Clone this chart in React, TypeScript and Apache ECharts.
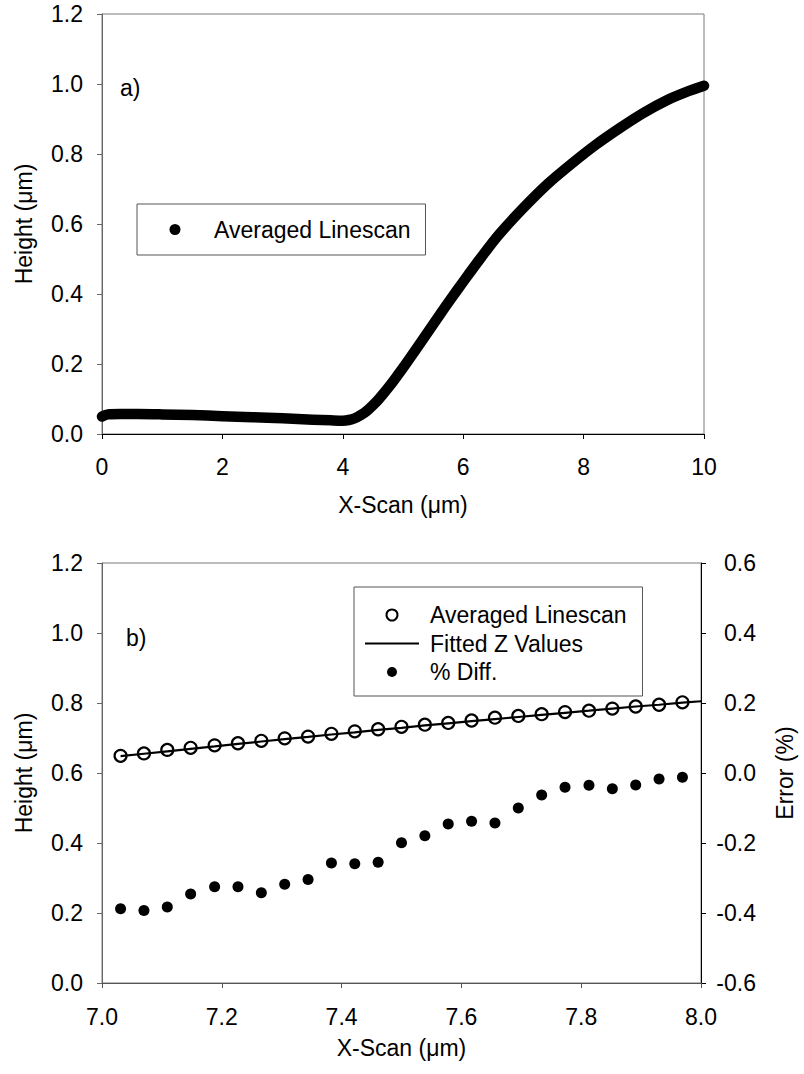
import React, { useEffect, useRef } from "react";
import * as echarts from "echarts";

// Panel a) – full averaged linescan across the 10 µm scan
const scanX = [0, 0.1, 0.3, 0.6, 1.0, 1.5, 2.0, 2.5, 3.0, 3.5, 3.8, 4.0, 4.1, 4.2, 4.3, 4.4, 4.5, 4.6, 4.8, 5.0, 5.2, 5.4, 5.6, 5.8, 6.0, 6.3, 6.6, 7.0, 7.4, 7.8, 8.2, 8.6, 9.0, 9.4, 9.7, 10.0];
const scanHeight = [0.050, 0.056, 0.057, 0.057, 0.056, 0.054, 0.051, 0.048, 0.045, 0.041, 0.039, 0.038, 0.040, 0.045, 0.054, 0.066, 0.082, 0.100, 0.142, 0.189, 0.238, 0.288, 0.338, 0.387, 0.435, 0.505, 0.571, 0.646, 0.714, 0.772, 0.826, 0.874, 0.918, 0.955, 0.977, 0.995];

// Panel b) – zoomed region 7.0–8.0 µm
const zoomX = [7.031, 7.070, 7.109, 7.148, 7.188, 7.227, 7.266, 7.305, 7.344, 7.383, 7.422, 7.461, 7.500, 7.539, 7.578, 7.617, 7.656, 7.695, 7.734, 7.773, 7.813, 7.852, 7.891, 7.930, 7.969];
const zoomHeight = [0.649, 0.656, 0.666, 0.672, 0.679, 0.685, 0.692, 0.699, 0.704, 0.712, 0.719, 0.725, 0.732, 0.738, 0.743, 0.750, 0.758, 0.763, 0.768, 0.774, 0.778, 0.784, 0.790, 0.795, 0.802];
const fittedX = [7.031, 7.070, 7.109, 7.148, 7.188, 7.227, 7.266, 7.305, 7.344, 7.383, 7.422, 7.461, 7.500, 7.539, 7.578, 7.617, 7.656, 7.695, 7.734, 7.773, 7.813, 7.852, 7.891, 7.930, 7.969, 8.0];
const fittedZ = [0.648, 0.655, 0.662, 0.669, 0.676, 0.683, 0.690, 0.697, 0.703, 0.710, 0.716, 0.723, 0.729, 0.736, 0.742, 0.748, 0.754, 0.760, 0.766, 0.772, 0.778, 0.784, 0.790, 0.795, 0.801, 0.805];
const pctDiff = [-0.388, -0.393, -0.383, -0.346, -0.325, -0.325, -0.342, -0.318, -0.304, -0.257, -0.259, -0.255, -0.199, -0.179, -0.146, -0.138, -0.143, -0.100, -0.063, -0.041, -0.035, -0.045, -0.034, -0.017, -0.012];

const FONT = "'Liberation Sans', Arial, sans-serif";
const FS = 23;

const fmt1 = (v: number) => (Math.abs(v) < 1e-9 ? "0.0" : v.toFixed(1));
const fmt0 = (v: number) => String(Math.round(v));

const zip = (xs: number[], ys: number[]) => xs.map((x, i) => [x, ys[i]]);

// legend glyphs: invisible move-to points fix the glyph box so the mark stays centred
const DOT_TOP = "path://M0,0 M68,11 M28.5,5.5 a5.5,5.5 0 1,0 11,0 a5.5,5.5 0 1,0 -11,0 z";
const DOT_BOTTOM = "path://M0,0 M66,11 M28,5.5 a5,5 0 1,0 10,0 a5,5 0 1,0 -10,0 z";
const DASH = "path://M0,0 M66,11 M6,4.4 h54 v2.2 h-54 z";

export default function App() {
  const ref = useRef<HTMLDivElement>(null);

  useEffect(() => {
    if (!ref.current) return;
    const chart = echarts.init(ref.current, undefined, { renderer: "svg" });

    const baseAxisLine = (color: string) => ({ show: true, lineStyle: { color, width: 1 } });
    const tick = (color: string) => ({ show: true, inside: false, length: 5, lineStyle: { color, width: 1 } });
    const label = { color: "#000", fontSize: FS, fontFamily: FONT };
    const nameStyle = { color: "#000", fontSize: FS, fontFamily: FONT };
    const legendText = { fontSize: FS, fontFamily: FONT, color: "#000", lineHeight: 22 };

    chart.setOption({
      animation: false,
      backgroundColor: "#fff",
      textStyle: { fontFamily: FONT, color: "#000" },
      grid: [
        { left: 102, top: 14, width: 602, height: 420, show: true, borderColor: "#7a7a7a", borderWidth: 1 },
        { left: 102, top: 563, width: 602, height: 420, show: true, borderColor: "#7a7a7a", borderWidth: 1 },
      ],
      xAxis: [
        {
          type: "value", gridIndex: 0, min: 0, max: 10, interval: 2,
          axisLine: baseAxisLine("#000"), axisTick: tick("#000"),
          axisLabel: { ...label, margin: 21, formatter: fmt0 },
          splitLine: { show: false },
          name: "X-Scan (μm)", nameLocation: "middle", nameGap: 59, nameTextStyle: nameStyle,
        },
        {
          type: "value", gridIndex: 1, min: 7, max: 8, interval: 0.2,
          axisLine: baseAxisLine("#555"), axisTick: tick("#555"),
          axisLabel: { ...label, margin: 22, formatter: fmt1 },
          splitLine: { show: false },
          name: "X-Scan (μm)", nameLocation: "middle", nameGap: 53, nameTextStyle: nameStyle,
        },
      ],
      yAxis: [
        {
          type: "value", gridIndex: 0, min: 0, max: 1.2, interval: 0.2,
          axisLine: baseAxisLine("#666"), axisTick: tick("#666"),
          axisLabel: { ...label, margin: 19, formatter: fmt1 },
          splitLine: { show: false },
          name: "Height (μm)", nameLocation: "middle", nameGap: 67, nameTextStyle: nameStyle,
        },
        {
          type: "value", gridIndex: 1, min: 0, max: 1.2, interval: 0.2,
          axisLine: baseAxisLine("#666"), axisTick: tick("#666"),
          axisLabel: { ...label, margin: 19, formatter: fmt1 },
          splitLine: { show: false },
          name: "Height (μm)", nameLocation: "middle", nameGap: 67, nameTextStyle: nameStyle,
        },
        {
          type: "value", gridIndex: 1, position: "right", min: -0.6, max: 0.6, interval: 0.2,
          axisLine: baseAxisLine("#000"), axisTick: tick("#000"),
          axisLabel: { ...label, margin: 55, align: "right", formatter: fmt1 },
          splitLine: { show: false },
          name: "Error (%)", nameLocation: "middle", nameGap: 72, nameTextStyle: nameStyle,
        },
      ],
      legend: [
        {
          left: 137, top: 204, orient: "vertical",
          padding: [14, 15, 14, 4],
          itemWidth: 68, itemHeight: 11,
          borderColor: "#555", borderWidth: 1,
          selectedMode: false,
          textStyle: legendText,
          data: [{ name: "Averaged Linescan", icon: DOT_TOP, itemStyle: { color: "#000", borderWidth: 0 } }],
        },
        {
          left: 354, top: 587, orient: "vertical",
          padding: [16.5, 16, 12.5, 5],
          itemWidth: 66, itemHeight: 11, itemGap: 5.5,
          borderColor: "#555", borderWidth: 1,
          selectedMode: false,
          textStyle: legendText,
          data: [
            { name: "Averaged Linescan", icon: "emptyCircle" },
            { name: "Fitted Z Values", icon: DASH, itemStyle: { borderWidth: 0 } },
            { name: "% Diff.", icon: DOT_BOTTOM, itemStyle: { borderWidth: 0 } },
          ],
        },
      ],
      graphic: [
        { type: "text", left: 120, top: 76, style: { text: "a)", fontSize: FS, fontFamily: FONT, fill: "#000" } },
        { type: "text", left: 126, top: 626, style: { text: "b)", fontSize: FS, fontFamily: FONT, fill: "#000" } },
      ],
      series: [
        {
          name: "Averaged Linescan",
          type: "line",
          xAxisIndex: 0, yAxisIndex: 0,
          data: zip(scanX, scanHeight),
          showSymbol: false, symbol: "none",
          smooth: 0.3,
          color: "#000",
          lineStyle: { color: "#000", width: 10.5, cap: "round", join: "round" },
          z: 3,
        },
        {
          name: "Averaged Linescan",
          type: "scatter",
          xAxisIndex: 1, yAxisIndex: 1,
          data: zip(zoomX, zoomHeight),
          symbol: "circle", symbolSize: 12,
          itemStyle: { color: "#fff", borderColor: "#000", borderWidth: 2.2, opacity: 1 },
          z: 2,
        },
        {
          name: "Fitted Z Values",
          type: "line",
          xAxisIndex: 1, yAxisIndex: 1,
          data: zip(fittedX, fittedZ),
          showSymbol: false, symbol: "none",
          color: "#000",
          lineStyle: { color: "#000", width: 2.2 },
          z: 4,
        },
        {
          name: "% Diff.",
          type: "scatter",
          xAxisIndex: 1, yAxisIndex: 2,
          data: zip(zoomX, pctDiff),
          symbol: "circle", symbolSize: 11,
          itemStyle: { color: "#000", opacity: 1 },
          z: 3,
        },
      ],
    });

    return () => chart.dispose();
  }, []);

  return (
    <div
      ref={ref}
      style={{ position: "absolute", left: 0, top: 0, width: 804, height: 1074, background: "#fff" }}
    />
  );
}
